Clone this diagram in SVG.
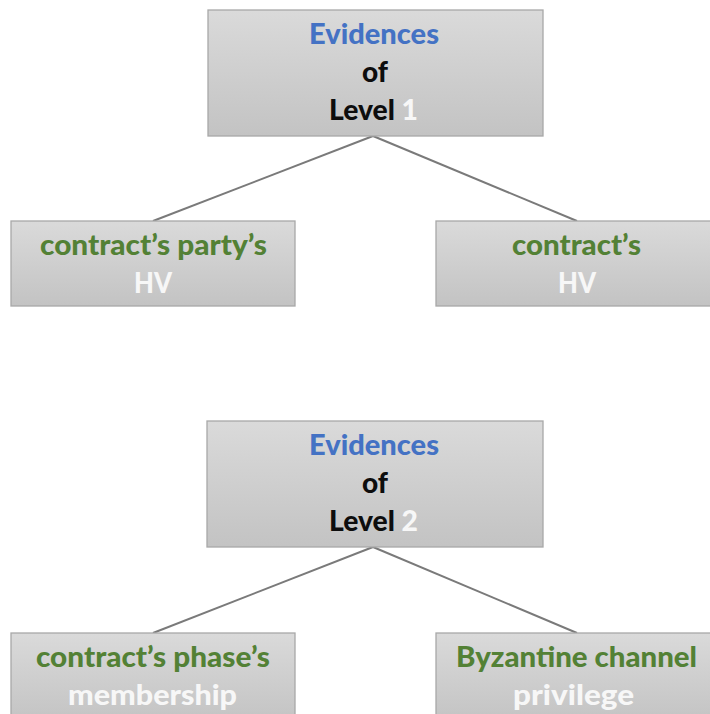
<svg xmlns="http://www.w3.org/2000/svg" width="710" height="714" viewBox="0 0 710 714">
  <defs>
    <linearGradient id="boxFill" x1="0" y1="0" x2="0" y2="1">
      <stop offset="0" stop-color="#dadada"/>
      <stop offset="1" stop-color="#c3c3c3"/>
    </linearGradient>
    <style>
      .box { fill: url(#boxFill); stroke: #a8a8a8; stroke-width: 1.3; }
      .edge { stroke: #7a7a7a; stroke-width: 2; fill: none; }
      text { font-family: Lato, "Liberation Sans", sans-serif; font-weight: 900; font-size: 28px; text-anchor: middle; }
      .blue { fill: #4472c4; }
      .green { fill: #538135; }
      .dark { fill: #0d0d0d; }
      .light { fill: #f7f7f7; }
    </style>
  </defs>
  <rect width="710" height="714" fill="#ffffff"/>

  <g id="connectors">
    <line class="edge" x1="373" y1="136" x2="153" y2="221"/>
    <line class="edge" x1="373" y1="136" x2="577" y2="221"/>
    <line class="edge" x1="373" y1="547" x2="153" y2="633"/>
    <line class="edge" x1="373" y1="547" x2="577" y2="633"/>
  </g>

  <g id="level1">
    <rect class="box" x="208" y="10" width="335" height="126"/>
    <text x="374" y="44" class="blue" textLength="130" lengthAdjust="spacingAndGlyphs">Evidences</text>
    <text x="375" y="82" class="dark" textLength="26" lengthAdjust="spacingAndGlyphs">of</text>
    <text x="373.5" y="120" class="dark" textLength="89" lengthAdjust="spacingAndGlyphs">Level <tspan class="light">1</tspan></text>
  </g>

  <g id="party-hv">
    <rect class="box" x="11" y="221" width="284" height="85"/>
    <text x="153.5" y="255" class="green" textLength="227" lengthAdjust="spacingAndGlyphs">contract’s party’s</text>
    <text x="153" y="293" class="light" textLength="38" lengthAdjust="spacingAndGlyphs">HV</text>
  </g>

  <g id="contract-hv">
    <rect class="box" x="436" y="221" width="284" height="85"/>
    <text x="576.5" y="255" class="green" textLength="129" lengthAdjust="spacingAndGlyphs">contract’s</text>
    <text x="577" y="293" class="light" textLength="38" lengthAdjust="spacingAndGlyphs">HV</text>
  </g>

  <g id="level2">
    <rect class="box" x="207" y="421" width="336" height="126"/>
    <text x="374" y="455" class="blue" textLength="130" lengthAdjust="spacingAndGlyphs">Evidences</text>
    <text x="375" y="493" class="dark" textLength="26" lengthAdjust="spacingAndGlyphs">of</text>
    <text x="373.5" y="531" class="dark" textLength="89" lengthAdjust="spacingAndGlyphs">Level <tspan class="light">2</tspan></text>
  </g>

  <g id="phase-membership">
    <rect class="box" x="11" y="633" width="284" height="90"/>
    <text x="153" y="667" class="green" textLength="234" lengthAdjust="spacingAndGlyphs">contract’s phase’s</text>
    <text x="152.5" y="705" class="light" textLength="169" lengthAdjust="spacingAndGlyphs">membership</text>
  </g>

  <g id="byzantine-privilege">
    <rect class="box" x="436" y="633" width="284" height="90"/>
    <text x="576.5" y="667" class="green" textLength="241" lengthAdjust="spacingAndGlyphs">Byzantine channel</text>
    <text x="573.5" y="705" class="light" textLength="121" lengthAdjust="spacingAndGlyphs">privilege</text>
  </g>
</svg>
